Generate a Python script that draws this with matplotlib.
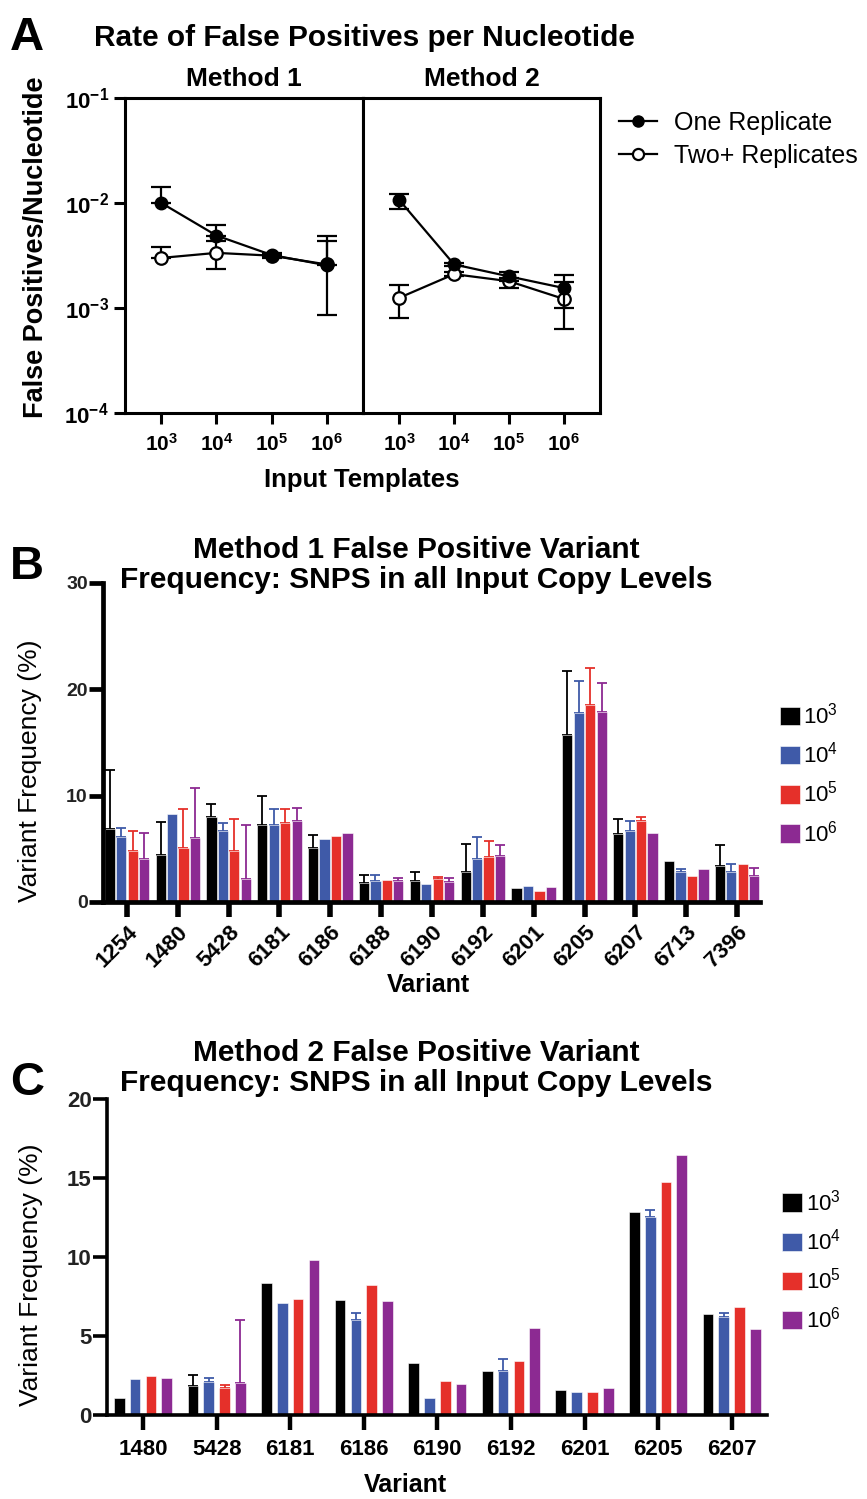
import numpy as np
import matplotlib
matplotlib.use('Agg')
import matplotlib.pyplot as plt
from matplotlib.lines import Line2D

plt.rcParams['font.family'] = ['Liberation Sans', 'DejaVu Sans']
plt.rcParams['mathtext.fontset'] = 'custom'
plt.rcParams['mathtext.rm'] = 'Liberation Sans'
plt.rcParams['mathtext.bf'] = 'Liberation Sans:bold'
plt.rcParams['mathtext.it'] = 'Liberation Sans:italic'

# ---- panel A: false positives per nucleotide ----
input_levels = [r'$\mathbf{10^{3}}$', r'$\mathbf{10^{4}}$', r'$\mathbf{10^{5}}$', r'$\mathbf{10^{6}}$']

m1_one = [1.0e-2, 4.9e-3, 3.2e-3, 2.55e-3]
m1_one_lo = [1.0e-2, 4.9e-3, 3.1e-3, 2.55e-3]
m1_one_hi = [1.42e-2, 6.2e-3, 3.35e-3, 4.8e-3]
m1_two = [3.0e-3, 3.35e-3, 3.15e-3, 2.6e-3]
m1_two_lo = [3.0e-3, 2.35e-3, 3.0e-3, 0.85e-3]
m1_two_hi = [3.8e-3, 4.3e-3, 3.3e-3, 4.3e-3]

m2_one = [1.07e-2, 2.6e-3, 2.0e-3, 1.55e-3]
m2_one_lo = [0.88e-2, 2.5e-3, 1.8e-3, 1.0e-3]
m2_one_hi = [1.22e-2, 2.7e-3, 2.2e-3, 2.05e-3]
m2_two = [1.25e-3, 2.1e-3, 1.8e-3, 1.22e-3]
m2_two_lo = [0.8e-3, 2.0e-3, 1.55e-3, 0.63e-3]
m2_two_hi = [1.67e-3, 2.2e-3, 1.95e-3, 1.78e-3]

# ---- panel B: method 1 variant frequencies ----
variants_b = ['1254', '1480', '5428', '6181', '6186', '6188', '6190',
              '6192', '6201', '6205', '6207', '6713', '7396']
b_1e3 = [6.9, 4.4, 8.0, 7.25, 5.05, 1.75, 1.95, 2.85, 1.3, 15.7, 6.37, 3.9, 3.4]
b_1e3_err = [5.5, 3.15, 1.2, 2.75, 1.25, 0.8, 0.9, 2.6, 0.0, 6.0, 1.4, 0.0, 2.0]
b_1e4 = [6.15, 8.25, 6.7, 7.25, 5.9, 1.95, 1.7, 4.0, 1.5, 17.8, 6.7, 2.85, 2.85]
b_1e4_err = [0.8, 0.0, 0.7, 1.5, 0.0, 0.6, 0.0, 2.15, 0.0, 3.0, 0.9, 0.3, 0.7]
b_1e5 = [4.75, 5.1, 4.75, 7.4, 6.25, 2.05, 2.2, 4.2, 1.05, 18.5, 7.65, 2.4, 3.55]
b_1e5_err = [1.95, 3.6, 3.05, 1.3, 0.0, 0.0, 0.15, 1.55, 0.0, 3.5, 0.3, 0.0, 0.0]
b_1e6 = [4.0, 6.0, 2.15, 7.65, 6.45, 1.95, 1.85, 4.35, 1.45, 17.9, 6.52, 3.12, 2.48]
b_1e6_err = [2.5, 4.7, 5.1, 1.2, 0.0, 0.35, 0.45, 1.0, 0.0, 2.7, 0.0, 0.0, 0.68]

# ---- panel C: method 2 variant frequencies ----
variants_c = ['1480', '5428', '6181', '6186', '6190', '6192', '6201', '6205', '6207']
c_1e3 = [1.1, 1.85, 8.33, 7.25, 3.3, 2.8, 1.6, 12.87, 6.37]
c_1e3_err = [0.0, 0.7, 0.0, 0.0, 0.0, 0.0, 0.0, 0.0, 0.0]
c_1e4 = [2.26, 2.07, 7.1, 6.0, 1.1, 2.8, 1.45, 12.55, 6.22]
c_1e4_err = [0.0, 0.25, 0.0, 0.47, 0.0, 0.75, 0.0, 0.42, 0.25]
c_1e5 = [2.5, 1.73, 7.35, 8.2, 2.15, 3.42, 1.45, 14.72, 6.85]
c_1e5_err = [0.0, 0.2, 0.0, 0.0, 0.0, 0.0, 0.0, 0.0, 0.0]
c_1e6 = [2.32, 2.03, 9.8, 7.24, 1.94, 5.5, 1.7, 16.43, 5.42]
c_1e6_err = [0.0, 3.98, 0.0, 0.0, 0.0, 0.0, 0.0, 0.0, 0.0]

copy_labels = ['10$^{3}$', '10$^{4}$', '10$^{5}$', '10$^{6}$']
bar_colors = ['#000000', '#3f5aa8', '#e5302a', '#8c2a92']

fig = plt.figure(figsize=(8.67, 14.99), dpi=100)
H = 1499.0
W = 867.0


def fx(px):
    return px / W


def fy(py):
    return 1 - py / H


# ================= panel A =================
axA1 = fig.add_axes([fx(125), fy(413), fx(238), 315 / H])
axA2 = fig.add_axes([fx(363), fy(413), fx(237), 315 / H], sharey=axA1)
x = np.arange(len(input_levels))

for ax, one, one_lo, one_hi, two, two_lo, two_hi, name in [
        (axA1, m1_one, m1_one_lo, m1_one_hi, m1_two, m1_two_lo, m1_two_hi, 'Method 1'),
        (axA2, m2_one, m2_one_lo, m2_one_hi, m2_two, m2_two_lo, m2_two_hi, 'Method 2')]:
    two = np.array(two)
    one = np.array(one)
    ax.errorbar(x, two, yerr=[two - np.array(two_lo), np.array(two_hi) - two],
                color='black', lw=1.6, marker='o', ms=9, mfc='white', mec='black',
                mew=1.6, capsize=7, elinewidth=1.6, capthick=1.6, zorder=3)
    ax.errorbar(x, one, yerr=[one - np.array(one_lo), np.array(one_hi) - one],
                color='black', lw=1.6, marker='o', ms=9, mfc='black', mec='black',
                capsize=7, elinewidth=1.6, capthick=1.6, zorder=4)
    ax.set_yscale('log')
    ax.set_ylim(1e-4, 1e-1)
    ax.set_xlim(-0.66, 3.66)
    ax.set_xticks(x)
    ax.set_xticklabels(input_levels, fontsize=15)
    ax.set_title(name, fontsize=19, fontweight='bold', pad=9)
    for s in ax.spines.values():
        s.set_linewidth(2.2)
    ax.tick_params(axis='x', length=8, width=2.2, pad=6)
    ax.tick_params(axis='y', which='major', length=8, width=2.2)
    ax.tick_params(axis='y', which='minor', length=0)

axA1.set_yticks([1e-4, 1e-3, 1e-2, 1e-1])
axA1.set_yticklabels([r'$\mathbf{10^{-4}}$', r'$\mathbf{10^{-3}}$',
                      r'$\mathbf{10^{-2}}$', r'$\mathbf{10^{-1}}$'], fontsize=16)
axA2.tick_params(axis='y', which='both', left=False, labelleft=False)
axA1.set_ylabel('False Positives/Nucleotide', fontsize=19.5, fontweight='bold')
axA1.yaxis.set_label_coords(-0.32, 0.527)

fig.text(fx(362), fy(480), 'Input Templates', fontsize=18.5, fontweight='bold',
         ha='center', va='center')
fig.text(fx(364), fy(38), 'Rate of False Positives per Nucleotide', fontsize=21.5,
         fontweight='bold', ha='center', va='center')

leg_handles = [
    Line2D([], [], color='black', lw=1.6, marker='o', ms=8, mfc='black'),
    Line2D([], [], color='black', lw=1.6, marker='o', ms=8, mfc='white', mew=1.6),
]
fig.legend(leg_handles, ['One Replicate', 'Two+ Replicates'], loc='upper left',
           bbox_to_anchor=(fx(619), fy(111)), frameon=False, fontsize=18,
           handlelength=1.5, handletextpad=0.7, labelspacing=0.35, borderpad=0,
           borderaxespad=0)


# ================= bar panels =================
def bar_panel(ax, variants, series, errs, pitch, width, ymax, step, spine_w):
    pos = np.arange(len(variants))
    handles = []
    for i, (vals, err, col) in enumerate(zip(series, errs, bar_colors)):
        xs = pos + (i - 1.5) * pitch
        b = ax.bar(xs, vals, width=width, color=col, edgecolor='white',
                   linewidth=0.4, zorder=2)
        handles.append(b)
        vals = np.array(vals)
        err = np.array(err)
        m = err > 0
        if m.any():
            ax.errorbar(xs[m], vals[m], yerr=[np.zeros(m.sum()), err[m]], fmt='none',
                        ecolor=col, elinewidth=1.3, capsize=3.5, capthick=1.3, zorder=1)
    ax.set_xlim(pos[0] - 0.47, pos[-1] + 0.45)
    ax.set_ylim(0, ymax)
    ax.set_yticks(np.arange(0, ymax + 0.1, step))
    ax.set_xticks(pos)
    ax.spines['top'].set_visible(False)
    ax.spines['right'].set_visible(False)
    ax.spines['left'].set_linewidth(spine_w)
    ax.spines['bottom'].set_linewidth(spine_w)
    ax.tick_params(axis='y', length=10, width=spine_w, pad=1, labelcolor='#222222')
    ax.tick_params(axis='x', length=11, width=spine_w + 0.6)
    ax.set_ylabel('Variant Frequency (%)', fontsize=19)
    ax.set_xlabel('Variant', fontsize=18, fontweight='bold')
    return handles


title_kw = dict(fontsize=21.5, fontweight='bold', ha='center', va='center', linespacing=1.05)

# ---- B ----
axB = fig.add_axes([fx(103), fy(902), fx(657), 319 / H])
hB = bar_panel(axB, variants_b, [b_1e3, b_1e4, b_1e5, b_1e6],
               [b_1e3_err, b_1e4_err, b_1e5_err, b_1e6_err],
               pitch=0.225, width=0.2, ymax=30, step=10, spine_w=3.4)
axB.set_xticklabels(variants_b, rotation=45, ha='right', rotation_mode='anchor',
                    fontsize=16, fontweight='bold')
axB.tick_params(axis='x', pad=3)
for t in axB.get_yticklabels():
    t.set_fontsize(14)
    t.set_fontweight('bold')
axB.yaxis.set_label_coords(-0.093, 0.41)
axB.xaxis.set_label_coords(0.495, -0.222)
axB.legend(hB, copy_labels, loc='center left', bbox_to_anchor=(1.03, 0.40),
           frameon=False, fontsize=16, handlelength=0.9, handleheight=0.9,
           handletextpad=0.15, labelspacing=0.6, borderpad=0, borderaxespad=0)
fig.text(fx(416), fy(565), 'Method 1 False Positive Variant\nFrequency: SNPS in all Input Copy Levels',
         **title_kw)

# ---- C ----
axC = fig.add_axes([fx(107), fy(1415), fx(660), 316 / H])
hC = bar_panel(axC, variants_c, [c_1e3, c_1e4, c_1e5, c_1e6],
               [c_1e3_err, c_1e4_err, c_1e5_err, c_1e6_err],
               pitch=0.215, width=0.145, ymax=20, step=5, spine_w=2.6)
axC.set_xlim(-0.49, 8.48)
axC.set_xticklabels(variants_c, fontsize=16, fontweight='bold')
for t in axC.get_yticklabels():
    t.set_fontsize(16)
    t.set_fontweight('bold')
axC.tick_params(axis='x', pad=6)
axC.yaxis.set_label_coords(-0.097, 0.443)
axC.xaxis.set_label_coords(0.452, -0.184)
axC.legend(hC, copy_labels, loc='center left', bbox_to_anchor=(1.023, 0.487),
           frameon=False, fontsize=16, handlelength=0.9, handleheight=0.9,
           handletextpad=0.15, labelspacing=0.6, borderpad=0, borderaxespad=0)
fig.text(fx(416), fy(1068), 'Method 2 False Positive Variant\nFrequency: SNPS in all Input Copy Levels',
         **title_kw)

# panel letters
for letter, ypx in [('A', 38), ('B', 567), ('C', 1083)]:
    fig.text(fx(10), fy(ypx), letter, fontsize=34, fontweight='bold', va='center', ha='left')

fig.savefig('out.png', dpi=100)
